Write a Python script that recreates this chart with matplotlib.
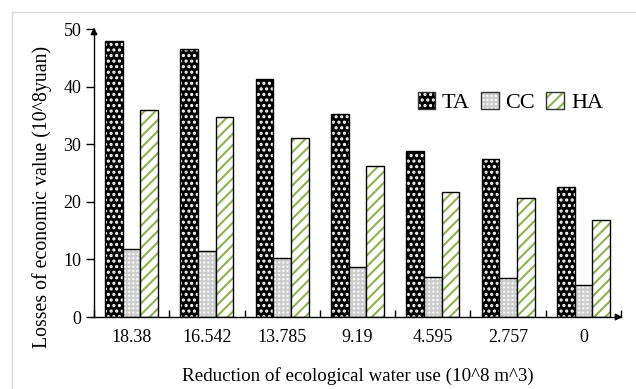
"""Economic value losses vs. reduction of ecological water use (TA / CC / HA)."""
import matplotlib
import matplotlib.pyplot as plt
import numpy as np
from matplotlib.patches import Rectangle

matplotlib.use("Agg")

plt.rcParams["font.family"] = ["Liberation Serif", "DejaVu Serif"]
plt.rcParams["hatch.linewidth"] = 1.5

# ── data ─────────────────────────────────────────────────────────────────────
reductions = ["18.38", "16.542", "13.785", "9.19", "4.595", "2.757", "0"]
ta_values = [47.9, 46.5, 41.3, 35.2, 28.8, 27.4, 22.6]
cc_values = [11.8, 11.5, 10.2, 8.6, 7.0, 6.8, 5.6]
ha_values = [35.9, 34.7, 31.1, 26.2, 21.7, 20.6, 16.8]
y_ticks = [0, 10, 20, 30, 40, 50]

TA_STYLE = dict(facecolor="black", edgecolor="white", hatch="...")
CC_STYLE = dict(facecolor="white", edgecolor="#cdcdcd", hatch="++++")
HA_STYLE = dict(facecolor="white", edgecolor="#8fb24c", hatch="///")

fig = plt.figure(figsize=(6.36, 3.89), dpi=100)
ax = fig.add_axes([94 / 636, 1 - 317 / 389, 527 / 636, 288 / 389])

# light grey frame round the figure
fig.patches.append(Rectangle((12 / 636, -0.05), 1.0, 1.05 - 12 / 389, transform=fig.transFigure,
                             fill=False, edgecolor="#d8d8d8", linewidth=1.0))

x = np.arange(len(reductions))
w = 0.235

for offset, values, style in [(-w, ta_values, TA_STYLE), (0, cc_values, CC_STYLE), (w, ha_values, HA_STYLE)]:
    ax.bar(x + offset, values, w, linewidth=0, **style)
    ax.bar(x + offset, values, w, fill=False, edgecolor="black", linewidth=1.0)

# legend proxies (hatched square + black frame)
frame = Rectangle((0, 0), 1, 1, fill=False, edgecolor="#333333", linewidth=1.0)
handles = [(Rectangle((0, 0), 1, 1, linewidth=0, **s), frame) for s in (TA_STYLE, CC_STYLE, HA_STYLE)]
ax.legend(handles, ["TA", "CC", "HA"], ncol=3,
          frameon=False, fontsize=16, loc="center", bbox_to_anchor=(0.79, 0.745),
          handlelength=0.8, handleheight=0.8, handletextpad=0.3, columnspacing=0.5,
          borderaxespad=0)

ax.set_xlim(-0.5, len(reductions) - 0.5)
ax.set_ylim(0, 50)
ax.set_yticks(y_ticks)
ax.tick_params(axis="y", direction="out", length=6, width=1, labelsize=13, pad=3)

ax.set_xticks(np.arange(len(reductions) + 1) - 0.5)
ax.set_xticklabels([])
ax.tick_params(axis="x", which="major", direction="in", length=5, width=1)
ax.set_xticks(x, minor=True)
ax.set_xticklabels(reductions, minor=True)
ax.tick_params(axis="x", which="minor", length=0, labelsize=13, pad=9)

for side in ("top", "right"):
    ax.spines[side].set_visible(False)
ax.spines["left"].set_linewidth(1.0)
ax.spines["bottom"].set_linewidth(1.0)

# arrow heads on the axes
ax.annotate("", xy=(0, 1.015), xytext=(0, 0.98), xycoords="axes fraction",
            arrowprops=dict(arrowstyle="-|>", color="black", lw=1.0, mutation_scale=10))
ax.annotate("", xy=(1.008, 0), xytext=(0.99, 0), xycoords="axes fraction",
            arrowprops=dict(arrowstyle="-|>", color="black", lw=1.0, mutation_scale=10))

ax.set_ylabel("Losses of economic value (10^8yuan)", fontsize=14.3)
ax.yaxis.set_label_coords(-0.080, 0.417)
ax.set_xlabel("Reduction of ecological water use (10^8 m^3)", fontsize=13.7, labelpad=15)

fig.savefig("out.png", dpi=100)
